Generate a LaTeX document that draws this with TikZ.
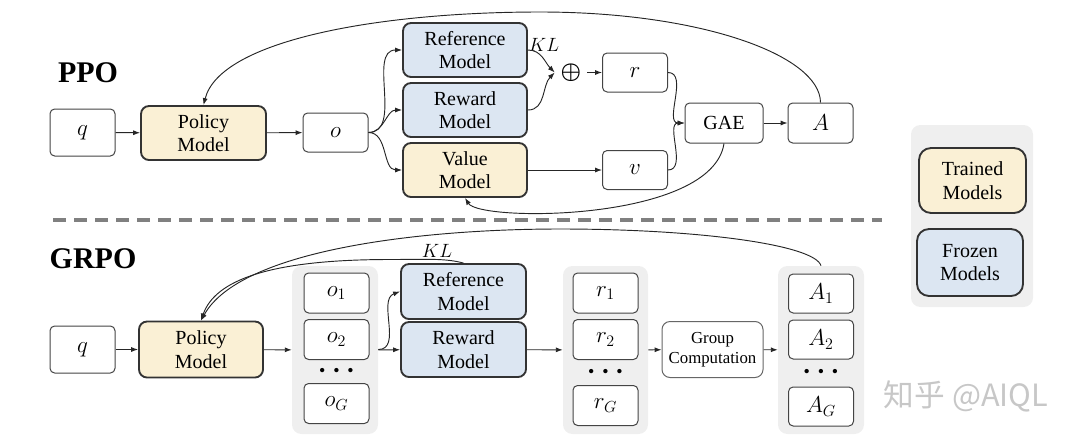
\documentclass[tikz,border=0pt]{standalone}
\usepackage{fontspec}
\setmainfont{Liberation Serif}
\newfontfamily\cjkfont{Noto Sans CJK SC}
\usetikzlibrary{arrows.meta}
\definecolor{trained}{HTML}{FAF0D5}
\definecolor{frozen}{HTML}{DCE6F2}
\definecolor{panel}{HTML}{EFEFEF}
\definecolor{edge}{HTML}{333333}
\definecolor{thin}{HTML}{444444}
\definecolor{dashc}{HTML}{808080}
\begin{document}
\begin{tikzpicture}[x=0.75pt,y=-0.75pt,
  font=\fontsize{15}{17.5}\selectfont,
  plain/.style={draw=thin, line width=0.75pt, rounded corners=3.5pt, fill=white, align=center, inner sep=0pt},
  small/.style={plain, minimum width=48.75pt, minimum height=29.25pt, font=\fontsize{18}{20}\selectfont},
  model/.style={draw=edge, line width=1.4pt, rounded corners=6pt, align=center, inner sep=0pt, minimum width=93pt, minimum height=40.5pt},
  trainedm/.style={model, fill=trained},
  frozenm/.style={model, fill=frozen},
  grp/.style={fill=panel, rounded corners=7pt, inner sep=0pt},
  title/.style={font=\fontsize{22.5}{25}\selectfont\bfseries},
  kl/.style={inner sep=0pt, font=\fontsize{13.5}{15}\selectfont},
  dotsn/.style={inner sep=0pt, font=\fontsize{22}{24}\selectfont\boldmath},
  arr/.style={-{Latex[length=5.2pt,width=3.8pt]}, line width=0.7pt, draw=black!85},
  dashline/.style={draw=dashc, line width=2.4pt, dash pattern=on 9.75pt off 6pt},
]
\useasboundingbox (0,0) rectangle (1080,443);

% ---------------- PPO ----------------
\node[title] (ppo) at (88,73) {PPO};
\node[small, minimum height=35.25pt] (q1) at (82.5,132.5) {$q$};
\node[trainedm, minimum width=93.75pt] (pol1) at (203.5,133) {Policy\\Model};
\node[small] (o1) at (335.5,132.5) {$o$};
\node[frozenm] (ref1) at (465,50) {Reference\\Model};
\node[frozenm] (rew1) at (465,110) {Reward\\Model};
\node[trainedm] (val1) at (465,170) {Value\\Model};
\node[kl] (kl1) at (544,45) {$KL$};
\node[inner sep=0pt, minimum width=24pt, minimum height=14pt, font=\fontsize{19}{20}\selectfont\boldmath] (plus) at (571,72.5) {$\oplus$};
\node[small] (r) at (635,72.5) {$r$};
\node[small] (v) at (635,170) {$v$};
\node[plain, minimum width=58.5pt, minimum height=30pt] (gae) at (724,123) {GAE};
\node[small, minimum height=30pt] (A) at (820.5,123) {$A$};

\draw[arr] (q1) -- (pol1);
\draw[arr] (pol1) -- (o1);
\draw[arr] (o1.east) to[out=0,in=180] (ref1.west);
\draw[arr] (o1.east) to[out=0,in=180] (rew1.west);
\draw[arr] (o1.east) to[out=0,in=180] (val1.west);
\draw[arr] (ref1.east) to[out=0,in=135] (plus.west);
\draw[arr] (rew1.east) to[out=0,in=-135] (plus.west);
\draw[arr] (plus) -- (r);
\draw[arr] (r.east) to[out=0,in=180] (gae.west);
\draw[arr] (v.east) to[out=0,in=180] (gae.west);
\draw[arr] (gae) -- (A);
\draw[arr] (val1) -- (v);
\draw[arr] (gae.south) .. controls (712,222) and (480,222) .. (val1.south);
\draw[arr] (A.north) .. controls (820,55) and (700,12) .. (540,12)
                     .. controls (380,12) and (220,40) .. (pol1.north);

% ---------------- legend ----------------
\node[grp, minimum width=91.5pt, minimum height=136.5pt] (leg) at (972,216) {};
\node[trainedm, minimum width=80.25pt, minimum height=48.75pt, rounded corners=9pt] (tr) at (972.5,180.5) {Trained\\Models};
\node[frozenm, minimum width=79.5pt, minimum height=50.25pt, rounded corners=9pt] (fr) at (970,262.5) {Frozen\\Models};

% ---------------- separator ----------------
\draw[dashline] (53,220) -- (882,220);

% ---------------- GRPO ----------------
\node[title] (grpo) at (93,258.5) {GRPO};
\node[small, minimum height=35.25pt] (q2) at (82.5,349.5) {$q$};
\node[trainedm, minimum height=42pt] (pol2) at (201,349.5) {Policy\\Model};

\node[grp, minimum width=64.5pt, minimum height=126pt] (op) at (335,350) {};
\node[small, minimum height=30pt] (oa) at (336.5,293) {$o_1$};
\node[small, minimum height=30pt] (ob) at (336.5,339.5) {$o_2$};
\node[dotsn] (od) at (336.5,371) {$\cdots$};
\node[small, minimum height=30pt] (oc) at (336.5,403.5) {$o_G$};

\node[frozenm, minimum width=93.75pt, minimum height=41.25pt] (ref2) at (463.5,291.5) {Reference\\Model};
\node[frozenm, minimum width=93.75pt, minimum height=41.25pt] (rew2) at (463.5,349.5) {Reward\\Model};
\node[kl] (kl2) at (437,251) {$KL$};

\node[grp, minimum width=63.75pt, minimum height=126pt] (rp) at (605.5,350) {};
\node[small, minimum height=30pt] (ra) at (605.5,293) {$r_1$};
\node[small, minimum height=30pt] (rb) at (605.5,339.5) {$r_2$};
\node[dotsn] (rd) at (605.5,372) {$\cdots$};
\node[small, minimum height=30pt] (rc) at (605.5,405.5) {$r_G$};

\node[plain, draw=black!60, rounded corners=6pt, minimum width=75.75pt, minimum height=42pt, font=\fontsize{12.6}{15}\selectfont] (gc) at (712.5,349.5) {Group\\Computation};

\node[grp, minimum width=64.5pt, minimum height=126pt] (ap) at (821,350) {};
\node[small] (aa) at (821,293.5) {$A_1$};
\node[small] (ab) at (821,339.5) {$A_2$};
\node[dotsn] (ad) at (821,372) {$\cdots$};
\node[small] (ac) at (821,406.5) {$A_G$};

\draw[arr] (q2) -- (pol2);
\draw[arr] (pol2) -- (op);
\draw[arr] (op) -- (rew2);
\draw[arr] (op.east |- rew2.west) to[out=0,in=200] (ref2.west);
\draw[arr] (rew2) -- (rp);
\draw[arr] (rp) -- (gc);
\draw[arr] (gc) -- (ap);
\draw[arr] (ref2.north) .. controls (445,258) and (425,259.5) .. (390,259.5)
                        .. controls (270,259.5) and (215,280) .. (pol2.north);
\draw[arr] (ap.north) .. controls (815,245) and (700,229) .. (560,229)
                      .. controls (420,229) and (240,250) .. (pol2.north);

% ---------------- watermark ----------------
\node[text=black!22, font=\cjkfont\fontsize{23}{25}\selectfont] (wm) at (966,396) {知乎 @AIQL};
\end{tikzpicture}
\end{document}
